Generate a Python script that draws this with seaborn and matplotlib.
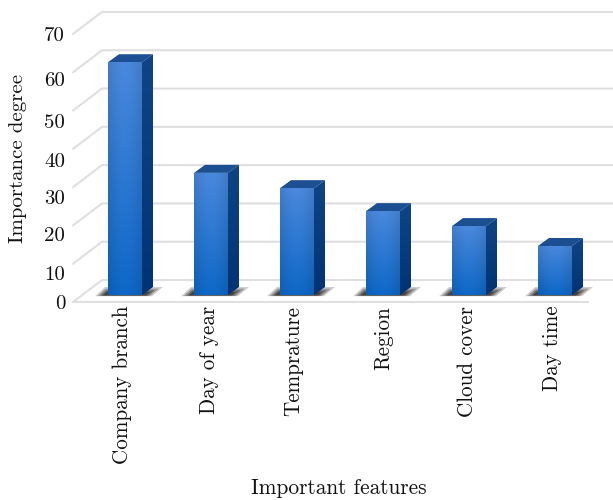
import numpy as np
import pandas as pd
import matplotlib
matplotlib.use("Agg")
import matplotlib.pyplot as plt
from matplotlib.patches import Polygon
from matplotlib.transforms import ScaledTranslation
import seaborn as sns

features = ["Company branch", "Day of year", "Temprature", "Region", "Cloud cover", "Day time"]
importance = [60.8, 31.9, 27.9, 21.9, 18.0, 12.8]
y_ticks = [0, 10, 20, 30, 40, 50, 60, 70]

sns.set_theme(style="white")
plt.rcParams["font.family"] = ["cmr10", "DejaVu Serif"]
plt.rcParams["axes.formatter.use_mathtext"] = True
plt.rcParams["axes.unicode_minus"] = False

W, H = 613, 500
fig = plt.figure(figsize=(W / 100, H / 100), dpi=100)
fig.patch.set_facecolor("white")
ax = fig.add_axes([82 / W, (H - 295) / H, 516 / W, 268 / H])

df = pd.DataFrame({"feature": features, "importance": importance})
sns.barplot(data=df, x="feature", y="importance", width=34 / 86, color="#1f6cc4",
            ax=ax, zorder=4, saturation=1)
ax.set_xlim(-0.5, 5.5)
ax.set_ylim(0, 70)
ax.patch.set_alpha(0)
for s in ax.spines.values():
    s.set_visible(False)

px_x = 86.0            # px per category
px_y = 268 / 70.0      # px per unit value
ddx = 11 / px_x        # bar depth in data units
ddy = 8 / px_y


def to_x(px):
    return (px - 82) / px_x - 0.5


def to_y(py):
    return (295 - py) / px_y


grid = "#dfdfdf"
glw = 1.5
for v in y_ticks:
    back = to_y(280) + v
    front = to_y(302) + v
    ax.plot([to_x(73), to_x(102), to_x(613)], [front, back, back], color=grid, lw=glw,
            clip_on=False, zorder=1, solid_joinstyle="miter")
ax.plot([to_x(73), to_x(588)], [to_y(302), to_y(302)], color=grid, lw=glw, clip_on=False, zorder=1)


def vgrad(top, bot, n=64):
    t = np.linspace(0, 1, n)[:, None, None]
    return np.array(top)[None, None, :] * (1 - t) + np.array(bot)[None, None, :] * t


fx = np.linspace(0, 1, 16)[None, :, None]
front_grad = np.clip(vgrad([0.27, 0.50, 0.81], [0.05, 0.38, 0.73]) * (0.97 + 0.10 * np.sin(np.pi * fx)), 0, 1)
side_grad = vgrad([0.06, 0.27, 0.52], [0.00, 0.20, 0.45])

for bar in list(ax.patches):
    x0, w, h = bar.get_x(), bar.get_width(), bar.get_height()
    x1 = x0 + w
    # floor shadow, denser towards the bar
    for grow, alpha in ((1.0, 0.22), (0.8, 0.3), (0.6, 0.4), (0.4, 0.55)):
        sh = Polygon([[x0 - 13 * grow / px_x, -1.2 * grow / px_y],
                      [x0 - 3 * grow / px_x, 8 * grow / px_y],
                      [x1 + 21 * grow / px_x, 8 * grow / px_y],
                      [x1 + 10 * grow / px_x, -1.2 * grow / px_y]],
                     closed=True, fc="#26221e", ec="none", alpha=alpha, zorder=2, clip_on=False)
        ax.add_patch(sh)
    side = Polygon([[x1, 0], [x1 + ddx, ddy], [x1 + ddx, h + ddy], [x1, h]], closed=True,
                   fc="none", ec="none", zorder=3)
    lid = Polygon([[x0, h], [x0 + ddx, h + ddy], [x1 + ddx, h + ddy], [x1, h]], closed=True,
                  fc="#1c4f92", ec="none", zorder=3)
    ax.add_patch(side)
    ax.add_patch(lid)
    si = ax.imshow(side_grad, extent=(x1, x1 + ddx, 0, h + ddy), aspect="auto", zorder=3,
                   interpolation="bilinear")
    si.set_clip_path(side)
    im = ax.imshow(front_grad, extent=(x0, x1, 0, h), aspect="auto", zorder=5, interpolation="bilinear")
    im.set_clip_path(bar)
    bar.set_edgecolor("none")

ax.set_xlim(-0.5, 5.5)
ax.set_ylim(0, 70)

txt = "#111111"
ax.set_yticks(y_ticks, [str(v) for v in y_ticks], fontsize=15, color=txt)
ax.set_xticks(range(len(features)), features, rotation=90, fontsize=15.2, color=txt)
ax.tick_params(length=0)
y_shift = [-7, -16, -16, -17, -18, -17, -14, -7]
x_shift = [-3, -2, -4, 1, -2, -3]
for lab, d in zip(ax.get_yticklabels(), y_shift):
    lab.set_transform(lab.get_transform() + ScaledTranslation(-12 / 100, d / 100, fig.dpi_scale_trans))
for lab, d in zip(ax.get_xticklabels(), x_shift):
    lab.set_transform(lab.get_transform() + ScaledTranslation(d / 100, -6 / 100, fig.dpi_scale_trans))

ax.set_xlabel("")
ax.set_ylabel("")
fig.text(339 / W, 1 - 488 / H, "Important features", ha="center", va="center", fontsize=15.4, color=txt)
fig.text(18 / W, 1 - 158 / H, "Importance degree", ha="center", va="center", rotation=90, fontsize=15, color=txt)

fig.savefig("out.png", dpi=100)
